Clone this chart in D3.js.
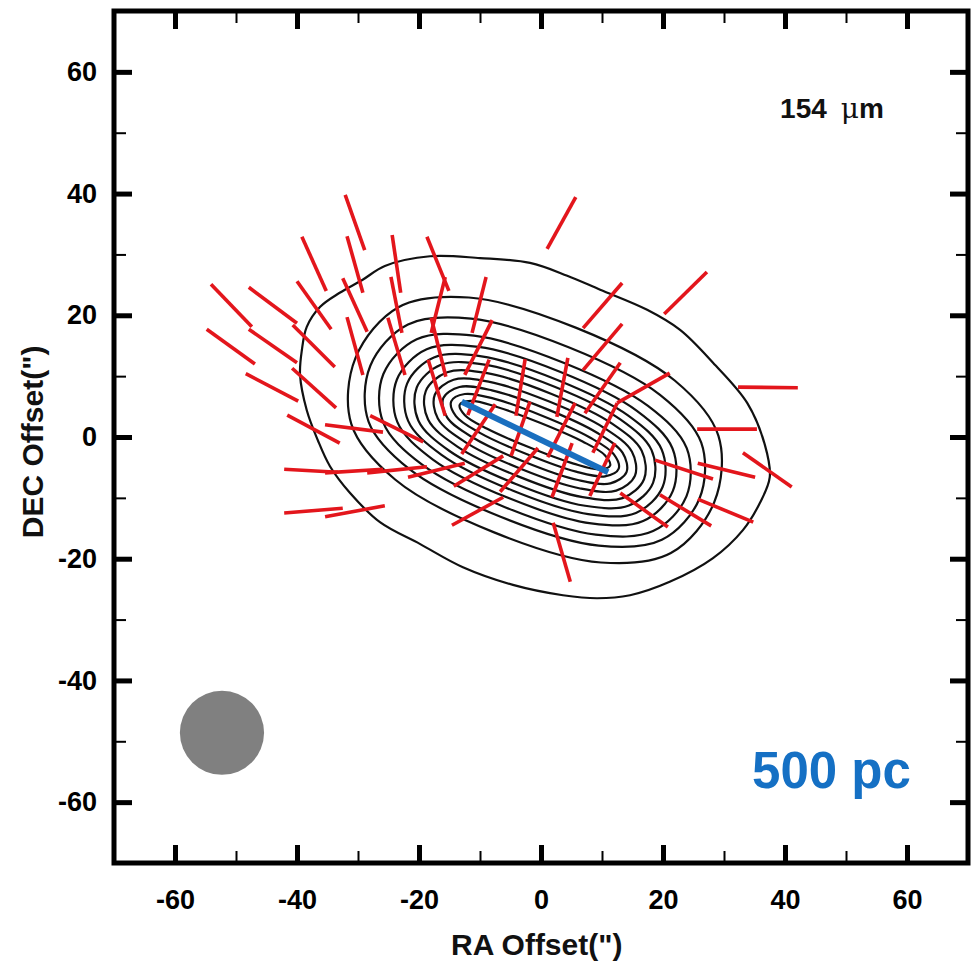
<!DOCTYPE html>
<html>
<head>
<meta charset="utf-8">
<script src="https://cdn.jsdelivr.net/npm/d3@7"></script>
<style>
  body { margin: 0; background: #fff; }
  text { font-family: "Liberation Sans", Arial, Helvetica, sans-serif; }
</style>
</head>
<body>
<svg id="chart" width="978" height="963"></svg>
<script>
// ---- axis ticks (arcsec) ----
const raMajorTicks  = [-60, -40, -20, 0, 20, 40, 60];
const raMinorTicks  = [-50, -30, -10, 10, 30, 50];
const decMajorTicks = [-60, -40, -20, 0, 20, 40, 60];
const decMinorTicks = [-50, -30, -10, 10, 30, 50];

// ---- 154 um intensity contours, outermost first: [RA offset, DEC offset] ----
const contour1 = [[-39.5,10.2],[-39.2,14.3],[-38.4,18.1],[-36.2,21.4],[-33.0,23.7],[-29.3,25.8],[-25.6,28.1],
  [-18.2,29.7],[-10.0,29.4],[-1.8,28.6],[4.3,26.5],[9.7,24.2],[17.4,20.9],[22.8,17.6],[28.2,12.2],[33.8,5.6],
  [36.7,-1.3],[37.5,-6.6],[35.9,-10.8],[33.1,-15.3],[28.2,-19.9],[21.1,-23.8],[14.6,-26.0],[9.2,-26.5],
  [3.6,-26.0],[-4.6,-24.3],[-12.8,-21.4],[-19.8,-17.6],[-26.4,-14.0],[-31.3,-9.2],[-34.6,-4.8],[-36.6,-0.5],[-38.4,4.4]];
const contour2  = [[28.39,-10.74],[29.09,0.19],[21.92,9.28],[5.79,17.93],[-11.82,22.92],[-23.29,21.37],
  [-30.39,13.04],[-31.09,2.11],[-23.92,-6.98],[-7.79,-15.63],[9.82,-20.62],[21.29,-19.07]];
const contour3  = [[25.98,-10.11],[26.27,-0.94],[19.51,6.93],[4.63,14.71],[-11.47,19.45],[-21.81,18.50],
  [-27.98,11.71],[-28.27,2.54],[-21.51,-5.33],[-6.63,-13.11],[9.47,-17.85],[19.81,-16.90]];
const contour4  = [[23.84,-9.75],[23.89,-1.84],[17.54,5.11],[3.80,12.17],[-10.98,16.65],[-20.37,16.06],
  [-25.84,10.35],[-25.89,2.44],[-19.54,-4.51],[-5.80,-11.57],[8.98,-16.05],[18.37,-15.46]];
const contour5  = [[21.62,-8.85],[21.56,-1.89],[15.72,4.30],[3.20,10.68],[-10.24,14.80],[-18.74,14.41],
  [-23.62,9.45],[-23.56,2.49],[-17.72,-3.70],[-5.20,-10.08],[8.24,-14.20],[16.74,-13.81]];
const contour6  = [[19.95,-8.18],[19.78,-2.05],[14.31,3.52],[2.68,9.38],[-9.75,13.26],[-17.56,13.07],
  [-21.95,8.78],[-21.78,2.65],[-16.31,-2.92],[-4.68,-8.78],[7.75,-12.66],[15.56,-12.47]];
const contour7  = [[18.37,-7.54],[18.11,-2.12],[13.00,2.90],[2.23,8.27],[-9.24,11.90],[-16.41,11.86],
  [-20.37,8.14],[-20.11,2.72],[-15.00,-2.30],[-4.23,-7.67],[7.24,-11.30],[14.41,-11.26]];
const contour8  = [[16.89,-6.94],[16.51,-2.26],[11.71,2.17],[1.74,7.07],[-8.83,10.49],[-15.37,10.64],
  [-18.89,7.54],[-18.51,2.86],[-13.71,-1.57],[-3.74,-6.47],[6.83,-9.89],[13.37,-10.04]];
const contour9  = [[15.41,-6.34],[14.91,-2.43],[10.42,1.44],[1.25,5.86],[-8.42,9.06],[-14.33,9.41],
  [-17.41,6.94],[-16.91,3.03],[-12.42,-0.84],[-3.25,-5.26],[6.42,-8.46],[12.33,-8.81]];
const contour10 = [[14.02,-5.78],[13.39,-2.62],[9.19,0.69],[0.76,4.66],[-8.05,7.67],[-13.37,8.22],
  [-16.02,6.38],[-15.39,3.22],[-11.19,-0.09],[-2.76,-4.06],[6.05,-7.07],[11.37,-7.62]];
const contour11 = [[12.72,-5.25],[11.95,-2.84],[8.02,-0.08],[0.28,3.45],[-7.74,6.30],[-12.49,7.06],
  [-14.72,5.85],[-13.95,3.44],[-10.02,0.68],[-2.28,-2.85],[5.74,-5.70],[10.49,-6.46]];
const contour12 = [[11.33,-4.69],[10.47,-2.98],[6.82,-0.74],[-0.17,2.34],[-7.34,4.98],[-11.51,5.92],
  [-13.33,5.29],[-12.47,3.58],[-8.82,1.34],[-1.83,-1.74],[5.34,-4.38],[9.51,-5.32]];

// ---- polarization vectors: [RA1, DEC1, RA2, DEC2] ----
const polVectors = [
  [-32.1,39.8,-28.9,30.7],[-39.2,32.9,-35.2,24.0],[-31.8,33.0,-29.2,23.7],[-24.4,33.2,-23.0,23.7],
  [-18.7,32.9,-15.1,24.0],[-54.1,25.1,-47.4,18.1],[-47.9,24.6,-40.0,18.7],[-40.0,25.6,-34.4,17.7],
  [-32.5,26.1,-28.5,17.3],[-24.6,26.3,-22.8,17.1],[-15.7,26.3,-18.0,17.1],[-54.8,17.7,-46.9,12.0],
  [-47.9,17.7,-40.0,12.2],[-40.7,18.4,-33.8,11.5],[-31.8,19.7,-29.2,10.2],[-25.1,19.6,-22.3,10.2],
  [-18.0,19.6,-15.6,9.9],[-48.4,10.4,-39.8,5.9],[-40.8,11.3,-33.6,4.8],[-41.6,3.6,-33.0,-1.0],
  [-35.4,2.0,-25.9,0.8],[-28.0,3.5,-19.3,-0.8],[-42.1,-5.3,-33.3,-5.8],[-35.4,-5.9,-25.9,-5.3],
  [-28.5,-5.9,-18.7,-4.9],[-21.8,-6.6,-12.5,-4.3],[-42.1,-12.5,-32.5,-11.7],[-35.4,-13.1,-25.6,-11.3],
  [-18.5,12.7,-15.7,3.5],[-8.5,12.7,-12.0,3.6],[-2.6,12.8,-4.1,3.5],[4.4,13.0,2.6,3.3],
  [13.0,12.2,7.2,3.9],[-7.5,5.4,-13.0,-2.8],[-1.8,5.8,-4.9,-3.1],[5.6,5.6,1.1,-3.3],
  [12.5,5.6,21.1,10.5],[12.1,-1.0,8.0,-9.7],[5.1,-1.0,1.8,-9.9],[12.5,5.6,8.5,-2.6],
  [32.3,8.2,42.1,8.1],[25.6,1.3,35.4,1.3],[18.7,-3.8,28.2,-6.9],[25.7,-4.3,35.1,-6.6],
  [33.1,-2.6,41.1,-8.2],[13.0,-9.2,20.8,-14.8],[19.5,-9.5,27.9,-14.6],[25.7,-10.2,34.8,-14.0],
  [2.0,-14.1,4.8,-23.8],[5.7,39.4,1.0,30.9],[27.2,27.1,20.2,20.2],[13.3,25.3,6.9,17.9],
  [13.3,18.6,6.9,11.0],[-9.0,26.3,-11.3,17.1],[-8.0,19.2,-12.5,10.2],[-14.3,-8.1,-6.2,-3.1],
  [-6.7,-9.0,-0.5,-1.8],[-14.6,-14.5,-6.2,-9.9]
];

// ---- scale bar (500 pc) and beam ----
const scaleBar = [[-13.0, 5.8], [11.0, -5.8]];
const scaleBarLabel = "500 pc";
const beamCenter = [-52.3, -48.6];
const beamRadius = 6.9;
const bandValue = "154";
const bandUnit = ["\u03bc", "m"];

const contours = [contour1, contour2, contour3, contour4, contour5, contour6,
                  contour7, contour8, contour9, contour10, contour11, contour12];

const svg = d3.select("#chart");
const x = d3.scaleLinear().domain([-70, 70]).range([114, 968]);
const y = d3.scaleLinear().domain([-70, 70]).range([863, 11]);

// contours
const contourLine = d3.line().x(d => x(d[0])).y(d => y(d[1])).curve(d3.curveCatmullRomClosed.alpha(0.5));
svg.append("g").selectAll("path").data(contours).join("path")
  .attr("d", contourLine)
  .attr("fill", "none").attr("stroke", "#111").attr("stroke-width", 2.2);

// polarization vectors
svg.append("g").selectAll("line").data(polVectors).join("line")
  .attr("x1", d => x(d[0])).attr("y1", d => y(d[1]))
  .attr("x2", d => x(d[2])).attr("y2", d => y(d[3]))
  .attr("stroke", "#e3161c").attr("stroke-width", 3.6);

// scale bar
svg.append("line")
  .attr("x1", x(scaleBar[0][0])).attr("y1", y(scaleBar[0][1]))
  .attr("x2", x(scaleBar[1][0])).attr("y2", y(scaleBar[1][1]))
  .attr("stroke", "#1a6fbf").attr("stroke-width", 6);

// beam
svg.append("circle")
  .attr("cx", x(beamCenter[0])).attr("cy", y(beamCenter[1]))
  .attr("r", x(beamRadius) - x(0))
  .attr("fill", "#808080");

// labels inside the frame
const band = svg.append("text").attr("x", x(39.2)).attr("y", y(52.5))
  .attr("font-size", 28).attr("font-weight", "bold").attr("fill", "#111");
band.append("tspan").text(bandValue);
band.append("tspan").attr("dx", 14).attr("font-weight", "normal")
  .attr("font-family", "'DejaVu Serif', serif").text(bandUnit[0]);
band.append("tspan").text(bandUnit[1]);

svg.append("text").attr("x", x(34.6)).attr("y", y(-57.6))
  .attr("font-size", 51).attr("font-weight", "bold").attr("fill", "#1570c4")
  .text(scaleBarLabel);

// axes: major ticks with labels on bottom/left, mirrored ticks top/right, minor ticks everywhere
function styleAxis(g, w) {
  g.select(".domain").remove();
  g.selectAll(".tick line").attr("stroke", "#000").attr("stroke-width", w);
  g.selectAll(".tick text").attr("font-size", 27).attr("font-weight", "bold").attr("fill", "#000")
    .style("font-family", "'Liberation Sans', Arial, sans-serif");
}
const fmt = d => String(d);
svg.append("g").attr("transform", `translate(0,${y(-70)})`)
  .call(d3.axisBottom(x).tickValues(raMajorTicks).tickSize(-18).tickPadding(27).tickFormat(fmt))
  .call(g => styleAxis(g, 5));
svg.append("g").attr("transform", `translate(0,${y(-70)})`)
  .call(d3.axisBottom(x).tickValues(raMinorTicks).tickSize(-12).tickFormat(""))
  .call(g => styleAxis(g, 2));
svg.append("g").attr("transform", `translate(0,${y(70)})`)
  .call(d3.axisTop(x).tickValues(raMajorTicks).tickSize(-18).tickFormat(""))
  .call(g => styleAxis(g, 5));
svg.append("g").attr("transform", `translate(0,${y(70)})`)
  .call(d3.axisTop(x).tickValues(raMinorTicks).tickSize(-12).tickFormat(""))
  .call(g => styleAxis(g, 2));
svg.append("g").attr("transform", `translate(${x(-70)},0)`)
  .call(d3.axisLeft(y).tickValues(decMajorTicks).tickSize(-18).tickPadding(17).tickFormat(fmt))
  .call(g => styleAxis(g, 5));
svg.append("g").attr("transform", `translate(${x(-70)},0)`)
  .call(d3.axisLeft(y).tickValues(decMinorTicks).tickSize(-12).tickFormat(""))
  .call(g => styleAxis(g, 2));
svg.append("g").attr("transform", `translate(${x(70)},0)`)
  .call(d3.axisRight(y).tickValues(decMajorTicks).tickSize(-18).tickFormat(""))
  .call(g => styleAxis(g, 5));
svg.append("g").attr("transform", `translate(${x(70)},0)`)
  .call(d3.axisRight(y).tickValues(decMinorTicks).tickSize(-12).tickFormat(""))
  .call(g => styleAxis(g, 2));

// frame
svg.append("rect")
  .attr("x", x(-70)).attr("y", y(70))
  .attr("width", x(70) - x(-70)).attr("height", y(-70) - y(70))
  .attr("fill", "none").attr("stroke", "#000").attr("stroke-width", 5);

// axis titles
svg.append("text").attr("x", x(-0.7)).attr("y", 955)
  .attr("text-anchor", "middle").attr("font-size", 30).attr("font-weight", "bold").attr("fill", "#111")
  .text("RA Offset(\")");
svg.append("text").attr("transform", `translate(43,${y(-0.8)}) rotate(-90)`)
  .attr("text-anchor", "middle").attr("font-size", 30).attr("font-weight", "bold").attr("fill", "#111")
  .text("DEC Offset(\")");
</script>
</body>
</html>
